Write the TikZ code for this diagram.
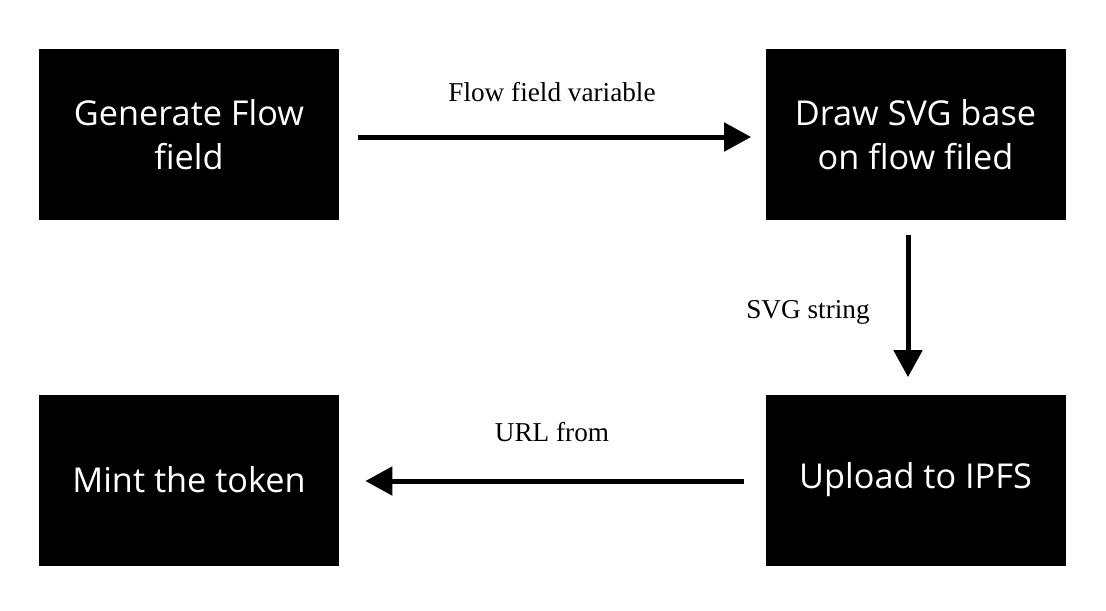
\documentclass[tikz,border=0pt]{standalone}
\usepackage{fontspec}
\setmainfont{Liberation Serif}
\newfontfamily\boxfont{Open Sans}
\usepackage{tikz}
\usetikzlibrary{arrows.meta, positioning, calc}
\definecolor{inkblack}{HTML}{000000}
\definecolor{paperwhite}{HTML}{FFFFFF}

\begin{document}
\begin{tikzpicture}
  \tikzstyle{stp}=[fill=inkblack, draw=none,
    minimum width=6.0cm, minimum height=3.42cm,
    align=center, text=paperwhite,
    font=\boxfont\fontsize{19.5}{25}\selectfont]
  \tikzstyle{lbl}=[font=\fontsize{15.5}{18}\selectfont, text=inkblack]
  \tikzstyle{flow}=[-{Triangle[length=0.54cm,width=0.56cm]},
    line width=0.1cm, inkblack]

  \useasboundingbox (0,0) rectangle (22.12,12.2);

  \node[stp] (gen)  at (3.78,9.51)  {Generate Flow\\field};
  \node[stp] (svg)  at (18.31,9.51) {Draw SVG base\\on flow filed};
  \node[stp] (ipfs) at (18.31,2.6)  {Upload to IPFS};
  \node[stp] (mint) at (3.78,2.6)   {Mint the token};

  \node[lbl] (l1) at (11.04,10.36) {Flow field variable};
  \node[lbl] (l2) at (16.16,5.95)  {SVG string};
  \node[lbl] (l3) at (11.04,3.56)  {URL from};

  \draw[flow,shorten <=0.38cm,shorten >=0.28cm]
    ([yshift=-0.05cm]gen.east) -- ([yshift=-0.05cm]svg.west);
  \draw[flow,shorten <=0.3cm,shorten >=0.34cm]
    ([xshift=-0.15cm]svg.south) -- ([xshift=-0.15cm]ipfs.north);
  \draw[flow,shorten <=0.42cm,shorten >=0.52cm]
    ([yshift=-0.02cm]ipfs.west) -- ([yshift=-0.02cm]mint.east);
\end{tikzpicture}
\end{document}
